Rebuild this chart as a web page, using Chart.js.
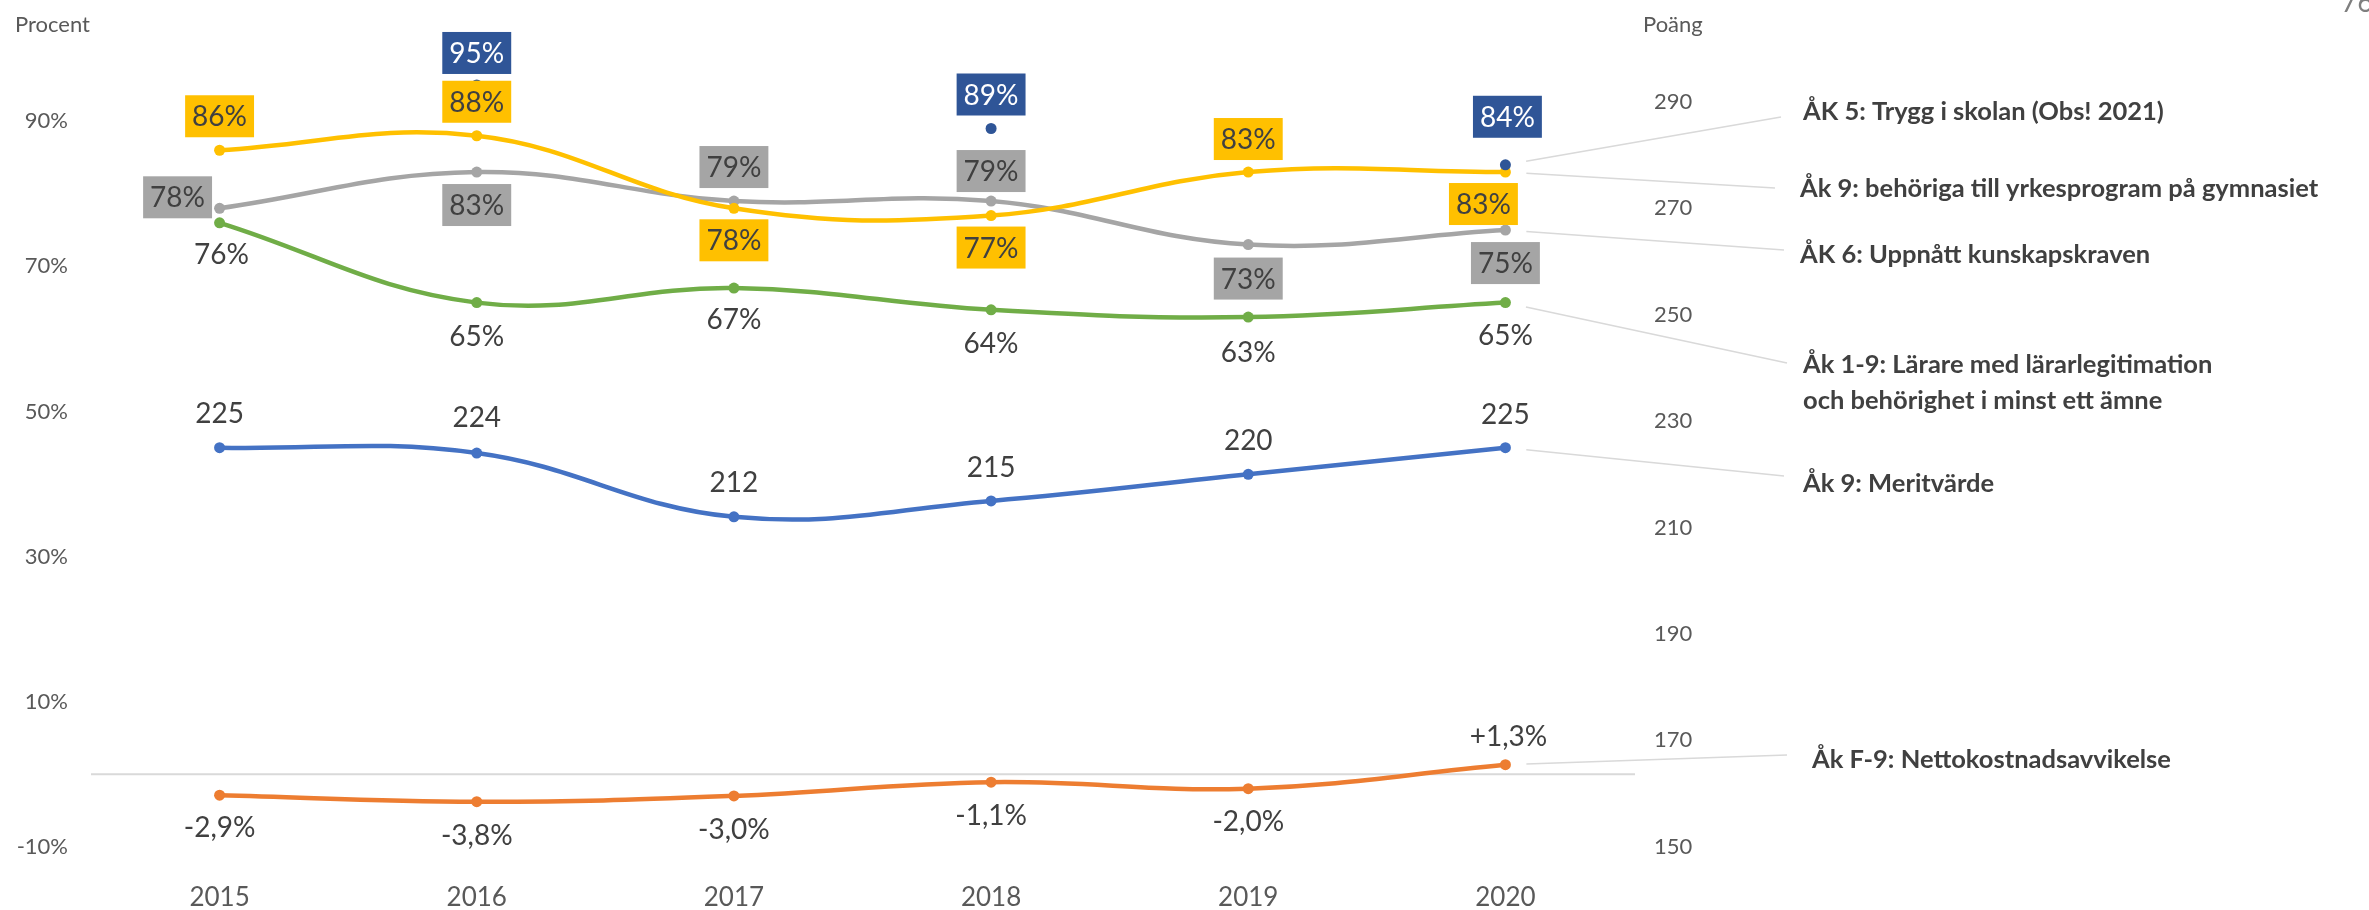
<!DOCTYPE html>
<html>
<head>
<meta charset="utf-8">
<script src="https://cdn.jsdelivr.net/npm/chart.js@4.4.1/dist/chart.umd.min.js"></script>
<style>
  html, body { margin: 0; padding: 0; background: #fff; }
</style>
</head>
<body>
<canvas id="chart" width="2369" height="910"></canvas>
<script>
const years = ['2015', '2016', '2017', '2018', '2019', '2020'];

// Procent (left axis)
const trygg = [null, 95, null, 89, null, 84];
const yrkes = [86, 88, 78, 77, 83, 83];
const kunskap = [78, 83, 79, 79, 73, 75];
const larare = [76, 65, 67, 64, 63, 65];
const netto = [-2.9, -3.8, -3.0, -1.1, -2.0, 1.3];

// Poäng (right axis)
const merit = [225, 224, 212, 215, 220, 225];

const pctTicks = [-10, 10, 30, 50, 70, 90];
const pointTicks = [150, 170, 190, 210, 230, 250, 270, 290];

const FONT = 'Lato, "Open Sans", sans-serif';
const TEXT = '#404040';
const AXIS = '#595959';

const pct = v => Math.round(v) + '%';
const pctDec = v => (v > 0 ? '+' : '') + v.toFixed(1).replace('.', ',') + '%';
const plain = v => String(Math.round(v));

function line(label, data, color, axis, extra) {
    return Object.assign({
        label: label,
        data: data,
        yAxisID: axis,
        borderColor: color,
        backgroundColor: color,
        borderWidth: 4.5,
        tension: 0.4,
        pointRadius: 5.5,
        pointBorderWidth: 0,
        pointBackgroundColor: color,
        fill: false
    }, extra);
}

const datasets = [
    line('ÅK 5: Trygg i skolan (Obs! 2021)', trygg, '#2F5597', 'y', {
        showLine: false,
        lbl: { fmt: pct, bg: '#2F5597', color: '#ffffff',
               off: [null, [0, -32], null, [0, -34], null, [2, -48]] },
        tag: { lines: ['ÅK 5: Trygg i skolan (Obs! 2021)'], x: 1803, base: 120, end: [1781, 117] }
    }),
    line('Åk 9: behöriga till yrkesprogram på gymnasiet', yrkes, '#FFC000', 'y', {
        lbl: { fmt: pct, bg: '#FFC000', color: TEXT,
               off: [[0, -34], [0, -34], [0, 32], [0, 32], [0, -33], [-22, 32]] },
        tag: { lines: ['Åk 9: behöriga till yrkesprogram på gymnasiet'], x: 1800, base: 197, end: [1775, 188] }
    }),
    line('ÅK 6: Uppnått kunskapskraven', kunskap, '#A5A5A5', 'y', {
        lbl: { fmt: pct, bg: '#A5A5A5', color: TEXT,
               off: [[-42, -11], [0, 33], [0, -34], [0, -30], [0, 34], [0, 33]] },
        tag: { lines: ['ÅK 6: Uppnått kunskapskraven'], x: 1800, base: 263, end: [1784, 250] }
    }),
    line('Åk 1-9: Lärare med lärarlegitimation och behörighet i minst ett ämne', larare, '#70AD47', 'y', {
        lbl: { fmt: pct, color: TEXT,
               off: [[2, 31], [0, 33], [0, 31], [0, 33], [0, 35], [0, 32]] },
        tag: { lines: ['Åk 1-9: Lärare med lärarlegitimation', 'och behörighet i minst ett ämne'],
               x: 1803, base: 373, end: [1787, 363] }
    }),
    line('Åk 9: Meritvärde', merit, '#4472C4', 'y2', {
        lbl: { fmt: plain, color: TEXT,
               off: [[0, -35], [0, -36], [0, -35], [0, -34], [0, -34], [0, -34]] },
        tag: { lines: ['Åk 9: Meritvärde'], x: 1803, base: 492, end: [1784, 476] }
    }),
    line('Åk F-9: Nettokostnadsavvikelse', netto, '#ED7D31', 'y', {
        lbl: { fmt: pctDec, color: TEXT,
               off: [[0, 32], [0, 33], [0, 33], [0, 33], [0, 32], [3, -29]] },
        tag: { lines: ['Åk F-9: Nettokostnadsavvikelse'], x: 1812, base: 768, end: [1787, 755] }
    })
];

// zero line across the plot
const zeroLine = {
    id: 'zeroLine',
    beforeDatasetsDraw(chart) {
        const ctx = chart.ctx;
        const a = chart.chartArea;
        const y0 = chart.scales.y.getPixelForValue(0);
        ctx.save();
        ctx.strokeStyle = '#D9D9D9';
        ctx.lineWidth = 2;
        ctx.beginPath();
        ctx.moveTo(a.left, y0);
        ctx.lineTo(a.right + 1, y0);
        ctx.stroke();
        ctx.restore();
    }
};

// data labels, connectors and series names
const labels = {
    id: 'labels',
    afterDatasetsDraw(chart) {
        const ctx = chart.ctx;
        ctx.save();
        chart.data.datasets.forEach((ds, i) => {
            const meta = chart.getDatasetMeta(i);
            const pts = meta.data;

            // connector from last point to name
            const last = pts[pts.length - 1];
            const [ex, ey] = ds.tag.end;
            const ang = Math.atan2(ey - last.y, ex - last.x);
            ctx.strokeStyle = '#D9D9D9';
            ctx.lineWidth = 1.5;
            ctx.beginPath();
            ctx.moveTo(last.x + 21 * Math.cos(ang), last.y + 21 * Math.sin(ang));
            ctx.lineTo(ex, ey);
            ctx.stroke();

            ctx.font = 'bold 25.5px ' + FONT;
            ctx.fillStyle = TEXT;
            ctx.textAlign = 'left';
            ctx.textBaseline = 'alphabetic';
            ds.tag.lines.forEach((t, k) => ctx.fillText(t, ds.tag.x, ds.tag.base + k * 36));
        });

        chart.data.datasets.forEach((ds, i) => {
            const pts = chart.getDatasetMeta(i).data;
            pts.forEach((pt, j) => {
                const v = ds.data[j];
                if (v == null) return;
                const [dx, dy] = ds.lbl.off[j];
                const cx = pt.x + dx, cy = pt.y + dy;
                const txt = ds.lbl.fmt(v);
                ctx.font = '28px ' + FONT;
                const w = ctx.measureText(txt).width;
                if (ds.lbl.bg) {
                    ctx.fillStyle = ds.lbl.bg;
                    ctx.fillRect(cx - w / 2 - 7, cy - 21, w + 14, 42);
                }
                ctx.fillStyle = ds.lbl.color;
                ctx.textAlign = 'center';
                ctx.textBaseline = 'alphabetic';
                ctx.fillText(txt, cx, cy + 10);
            });
        });

        // axis titles
        ctx.font = '22px ' + FONT;
        ctx.fillStyle = AXIS;
        ctx.textAlign = 'left';
        ctx.fillText('Procent', 15, 32);
        ctx.fillText('Poäng', 1643, 32);
        ctx.font = '28px ' + FONT;
        ctx.fillStyle = '#7F7F7F';
        ctx.fillText('76', 2341, 12);
        ctx.restore();
    }
};

const tickFont = { family: FONT, size: 22 };

new Chart(document.getElementById('chart'), {
    type: 'line',
    data: { labels: years, datasets: datasets },
    options: {
        responsive: false,
        animation: false,
        devicePixelRatio: 1,
        layout: { padding: { top: 48.7, left: 0, right: 0, bottom: 0 } },
        plugins: { legend: { display: false }, tooltip: { enabled: false } },
        scales: {
            x: {
                offset: true,
                grid: { display: false, drawTicks: false },
                border: { display: false },
                ticks: { padding: 35, color: AXIS, font: { family: FONT, size: 26 } },
                afterFit: s => { s.height = 63.3; }
            },
            y: {
                position: 'left',
                min: -10,
                max: 100,
                grid: { display: false, drawTicks: false },
                border: { display: false },
                afterBuildTicks: s => { s.ticks = pctTicks.map(v => ({ value: v })); },
                afterFit: s => { s.width = 91; },
                ticks: { padding: 23, color: AXIS, font: tickFont, callback: v => v + '%' }
            },
            y2: {
                position: 'right',
                min: 150,
                max: 300,
                grid: { display: false, drawTicks: false },
                border: { display: false },
                afterBuildTicks: s => { s.ticks = pointTicks.map(v => ({ value: v })); },
                afterFit: s => { s.width = 735; },
                ticks: { padding: 20, color: AXIS, font: tickFont }
            }
        }
    },
    plugins: [zeroLine, labels]
});
</script>
</body>
</html>
